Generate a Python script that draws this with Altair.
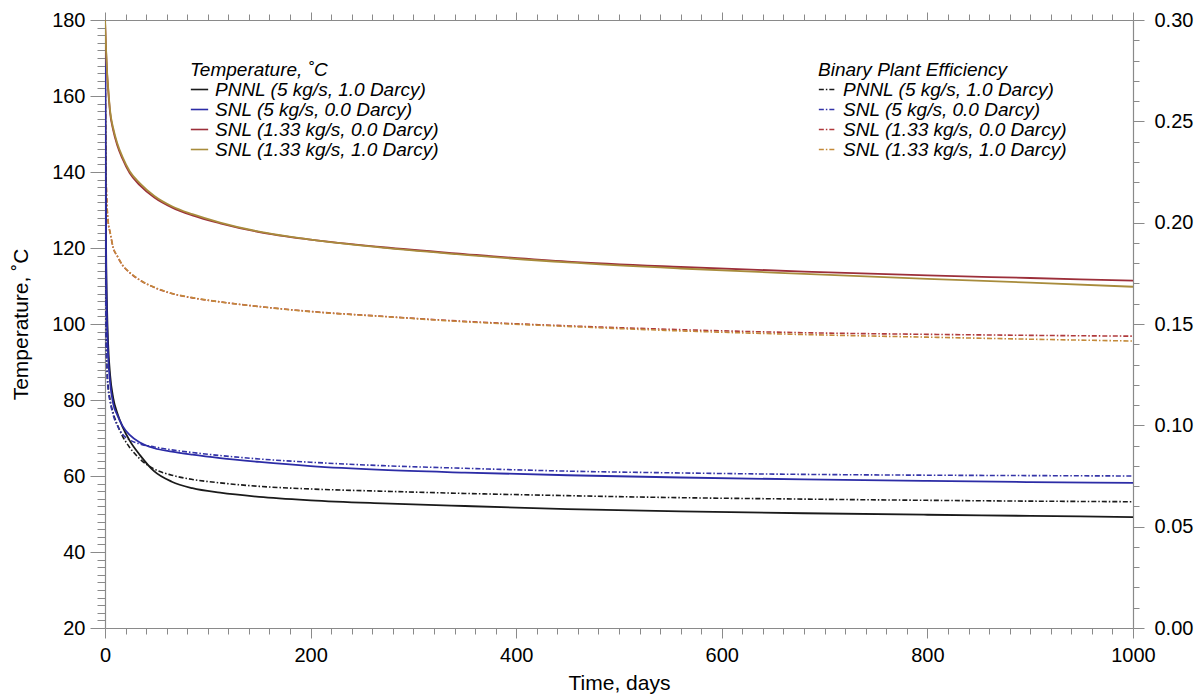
import altair as alt
import pandas as pd

# ---------------- data ----------------
time_days = [0, 1, 2, 3, 5, 8, 12, 17, 24, 34, 48, 65, 85, 112, 150, 200,
             270, 350, 450, 560, 680, 800, 900, 1000]

series_labels = ["PNNL (5 kg/s, 1.0 Darcy)", "SNL (5 kg/s, 0.0 Darcy)",
                 "SNL (1.33 kg/s, 0.0 Darcy)", "SNL (1.33 kg/s, 1.0 Darcy)"]

# Temperature, degC (left axis, solid lines)
temp_pnnl_5 = [180, 122, 104, 95, 86.5, 80.5, 76.5, 73, 69.3, 65.5, 61.2, 58.5,
               56.8, 55.6, 54.5, 53.6, 52.8, 52.1, 51.3, 50.7, 50.2, 49.8, 49.5, 49.2]
temp_snl_5 = [180, 118, 100, 92, 84.5, 79, 76, 73.2, 70.8, 68.8, 67.3, 66.4,
              65.6, 64.7, 63.7, 62.6, 61.6, 60.9, 60.2, 59.6, 59.1, 58.7, 58.4, 58.2]
temp_snl_133_d0 = [180, 172, 166, 162, 155.5, 151, 147, 143.5, 139.7, 136.5, 133.3, 130.7,
                   128.6, 126.5, 124.2, 122.2, 120.2, 118.4, 116.4, 115.0, 113.8, 112.8, 112.1, 111.4]
temp_snl_133_d1 = [180, 172.5, 166.5, 162.5, 156, 151.5, 147.5, 144, 140.2, 137, 133.7, 131,
                   128.9, 126.7, 124.3, 122.2, 120.1, 118.2, 116.2, 114.6, 113.2, 111.9, 110.9, 109.8]

# Binary plant efficiency (right axis, dash-dot lines)
eff_pnnl_5 = [0.26, 0.15, 0.1275, 0.12, 0.1125, 0.106, 0.1003, 0.0947, 0.0891, 0.0834, 0.0784, 0.0754,
              0.0733, 0.0716, 0.0699, 0.0686, 0.0675, 0.0664, 0.0653, 0.0643, 0.0636, 0.0630, 0.0626, 0.0623]
eff_snl_5 = [0.26, 0.146, 0.1256, 0.118, 0.1116, 0.105, 0.0999, 0.0956, 0.0928, 0.0908, 0.0893, 0.0879,
             0.0866, 0.0851, 0.0834, 0.0818, 0.0801, 0.0788, 0.0774, 0.0765, 0.0758, 0.0754, 0.0752, 0.0750]
eff_snl_133_d0 = [0.29, 0.225, 0.208, 0.2006, 0.195, 0.1875, 0.1834, 0.179, 0.1753, 0.1716, 0.168, 0.165,
                  0.1629, 0.1609, 0.1586, 0.1562, 0.1538, 0.1513, 0.1491, 0.1472, 0.1457, 0.1449, 0.1444, 0.1440]
eff_snl_133_d1 = [0.29, 0.2255, 0.2085, 0.201, 0.1953, 0.1878, 0.1836, 0.1792, 0.1755, 0.1717, 0.1681, 0.1651,
                  0.1630, 0.1609, 0.1586, 0.1561, 0.1537, 0.1511, 0.1488, 0.1466, 0.1448, 0.1435, 0.1425, 0.1416]

temp_colors = ["#1a1a1a", "#2c2ca6", "#9c2f3a", "#a88c3c"]
eff_colors = ["#1a1a1a", "#3434a8", "#b03a3c", "#c48a3a"]

# tick positions
x_ticks = list(range(0, 1001, 20))
t_ticks = list(range(20, 181, 2))
e_ticks = [i / 100 for i in range(0, 31)]

# ---------------- tables ----------------
temp_rows = []
for lab, vals in zip(series_labels, [temp_pnnl_5, temp_snl_5, temp_snl_133_d0, temp_snl_133_d1]):
    for t, v in zip(time_days, vals):
        temp_rows.append({"time": t, "temp": v, "series": lab})
eff_rows = []
for lab, vals in zip(series_labels, [eff_pnnl_5, eff_snl_5, eff_snl_133_d0, eff_snl_133_d1]):
    for t, v in zip(time_days, vals):
        eff_rows.append({"time": t, "eff": v, "series_eff": lab})
temp_df = pd.DataFrame(temp_rows)
eff_df = pd.DataFrame(eff_rows)

FONT = "Liberation Sans"
AX = "#8a8a8a"
DASH = [5, 2, 1.5, 2]


def legend(title, x, dash=None):
    kw = dict(title=title, orient="none", legendX=x, legendY=41,
              symbolType="stroke", symbolStrokeWidth=1.6, symbolSize=300,
              titleFontStyle="italic", labelFontStyle="italic",
              titleFontWeight="normal", titleFontSize=19, labelFontSize=19,
              titleFont=FONT, labelFont=FONT, titlePadding=0, titleLimit=600,
              labelLimit=600, rowPadding=-4, padding=0, labelOffset=6)
    if dash is not None:
        kw["symbolDash"] = dash
    return alt.Legend(**kw)


x_scale = alt.Scale(domain=[0, 1000], nice=False, zero=False)

temp_layer = alt.Chart(temp_df).mark_line(strokeWidth=1.8, interpolate="monotone", clip=True).encode(
    x=alt.X("time:Q", scale=x_scale,
            axis=alt.Axis(orient="bottom", title="Time, days", values=x_ticks, format="d",
                          labelExpr="datum.value % 200 === 0 ? datum.label : ''",
                          tickSize={"condition": {"test": "datum.value % 200 === 0", "value": 10}, "value": 6},
                          labelFlush=False, labelOverlap=False, labelPadding=7, titlePadding=7)),
    y=alt.Y("temp:Q", scale=alt.Scale(domain=[20, 180], nice=False, zero=False),
            axis=alt.Axis(orient="left", title="Temperature, ˚C", values=t_ticks,
                          labelExpr="datum.value % 20 === 0 ? datum.label : ''",
                          tickSize={"condition": {"test": "datum.value % 20 === 0", "value": 15}, "value": 8},
                          labelOverlap=False, labelPadding=5, titlePadding=20)),
    color=alt.Color("series:N",
                    scale=alt.Scale(domain=series_labels, range=temp_colors),
                    legend=legend("Temperature, ˚C", 85)),
    order=alt.Order("order_idx:Q"),
).transform_calculate(order_idx="datum.time")

eff_layer = alt.Chart(eff_df).mark_line(strokeWidth=1.6, strokeDash=DASH, interpolate="monotone", clip=True).encode(
    x=alt.X("time:Q", scale=x_scale,
            axis=alt.Axis(orient="top", title="", labels=False, values=x_ticks,
                          tickSize={"condition": {"test": "datum.value % 200 === 0", "value": 8}, "value": 6})),
    y=alt.Y("eff:Q", scale=alt.Scale(domain=[0, 0.30], nice=False, zero=False),
            axis=alt.Axis(orient="right", title="", values=e_ticks, format=".2f",
                          labelExpr="round(datum.value * 100) % 5 === 0 ? datum.label : ''",
                          tickSize={"condition": {"test": "round(datum.value * 100) % 5 === 0", "value": 11}, "value": 6},
                          labelOverlap=False, labelPadding=10)),
    color=alt.Color("series_eff:N",
                    scale=alt.Scale(domain=series_labels, range=eff_colors),
                    legend=legend("Binary Plant Efficiency", 713, DASH)),
    order=alt.Order("order_idx:Q"),
).transform_calculate(order_idx="datum.time")

chart = alt.layer(eff_layer, temp_layer).resolve_scale(
    y="independent", color="independent"
).resolve_axis(x="independent").properties(
    width=1028, height=608,
    padding={"left": 105, "top": 20, "right": 69, "bottom": 68},
    autosize=alt.AutoSizeParams(type="none"),
    background="white",
).configure_axis(
    grid=False, domainColor=AX, tickColor=AX, domainWidth=1.2, tickWidth=1,
    labelFont=FONT, titleFont=FONT, labelFontSize=20, titleFontSize=21,
    labelColor="black", titleColor="black", titleFontWeight="normal",
).configure_view(strokeWidth=0)

chart.save("out.html", embed_options={"renderer": "svg", "actions": False})
